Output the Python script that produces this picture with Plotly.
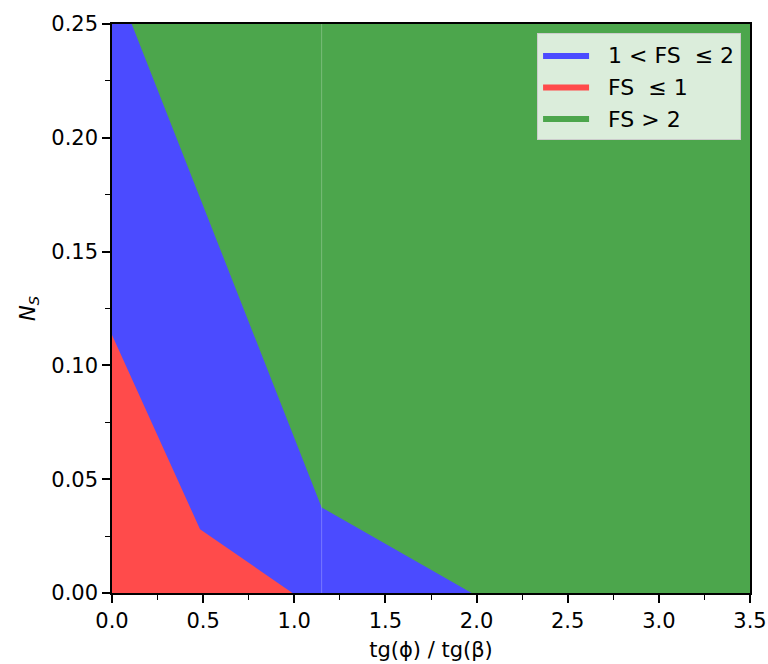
import plotly.graph_objects as go

# Axis extents
x_range = [0.0, 3.5]
y_range = [0.0, 0.25]

# FS = 1 boundary (red region lies below it)
fs1_x = [0.0, 0.483, 0.99]
fs1_y = [0.1134, 0.028, 0.0]

# FS = 2 boundary (blue region lies below it)
fs2_x = [0.108, 1.15, 1.973]
fs2_y = [0.25, 0.0376, 0.0]

# Seam between the two computed patches
seam_x = 1.15

x_ticks = [0.0, 0.5, 1.0, 1.5, 2.0, 2.5, 3.0, 3.5]
y_ticks = [0.00, 0.05, 0.10, 0.15, 0.20, 0.25]

FONT = "DejaVu Sans"
FS_TXT = 21
BLUE = "#4b4bff"
RED = "#ff4b4b"
GREEN = "#4ca64c"
PAD = "\u00a0\u00a0"  # gap between legend swatch and label

fig = go.Figure()

# FS > 2 : whole domain as background
fig.add_trace(go.Scatter(
    x=[x_range[0], x_range[1], x_range[1], x_range[0], x_range[0]],
    y=[y_range[0], y_range[0], y_range[1], y_range[1], y_range[0]],
    fill="toself", fillcolor=GREEN, mode="lines", line=dict(width=0, color=GREEN),
    name=PAD + "FS > 2", legendrank=3, hoverinfo="skip",
))

# 1 < FS <= 2
bx = [x_range[0], x_range[0]] + fs2_x + [x_range[0]]
by = [y_range[0], y_range[1]] + fs2_y + [y_range[0]]
fig.add_trace(go.Scatter(
    x=bx, y=by, fill="toself", fillcolor=BLUE, mode="lines",
    line=dict(width=0, color=BLUE),
    name=PAD + "1 < FS  ≤ 2", legendrank=1, hoverinfo="skip",
))

# FS <= 1
rx = [x_range[0]] + fs1_x + [x_range[0]]
ry = [y_range[0]] + fs1_y + [y_range[0]]
fig.add_trace(go.Scatter(
    x=rx, y=ry, fill="toself", fillcolor=RED, mode="lines",
    line=dict(width=0, color=RED),
    name=PAD + "FS  ≤ 1", legendrank=2, hoverinfo="skip",
))

fig.add_shape(type="line", x0=seam_x, x1=seam_x, y0=y_range[0], y1=y_range[1],
              xref="x", yref="y", line=dict(color="rgba(255,255,255,0.25)", width=1))

axis_common = dict(
    showgrid=False, zeroline=False, showline=True, linecolor="black", linewidth=1.5,
    mirror=True, ticks="outside", ticklen=8, tickwidth=1.5, tickcolor="black",
    tickfont=dict(family=FONT, size=FS_TXT, color="black"), automargin=False,
)

fig.update_xaxes(
    range=x_range, tickvals=x_ticks, ticktext=[f"{v:.1f}" for v in x_ticks],
    minor=dict(ticks="outside", ticklen=5, tickwidth=1, tickcolor="black", dtick=0.25,
               tick0=0, showgrid=False),
    title=dict(text="tg(ϕ) / tg(β)", font=dict(family=FONT, size=FS_TXT, color="black"),
               standoff=10),
    **axis_common,
)
fig.update_yaxes(
    range=y_range, tickvals=y_ticks, ticktext=[f"{v:.2f}" for v in y_ticks],
    minor=dict(ticks="outside", ticklen=5, tickwidth=1, tickcolor="black", dtick=0.025,
               tick0=0, showgrid=False),
    title=dict(text="<i>N</i><sub><i>S</i></sub>", font=dict(family=FONT, size=FS_TXT, color="black"),
               standoff=10),
    **axis_common,
)

fig.update_layout(
    width=768, height=664,
    margin=dict(l=112, r=18, t=24, b=71),
    paper_bgcolor="white", plot_bgcolor="white",
    font=dict(family=FONT, size=FS_TXT, color="black"),
    showlegend=True,
    legend=dict(
        x=0.986, y=0.984, xanchor="right", yanchor="top",
        bgcolor="rgba(255,255,255,0.8)", bordercolor="#cccccc", borderwidth=1,
        font=dict(family=FONT, size=22, color="black"),
        itemwidth=46,
    ),
)

fig.write_html("out.html")
